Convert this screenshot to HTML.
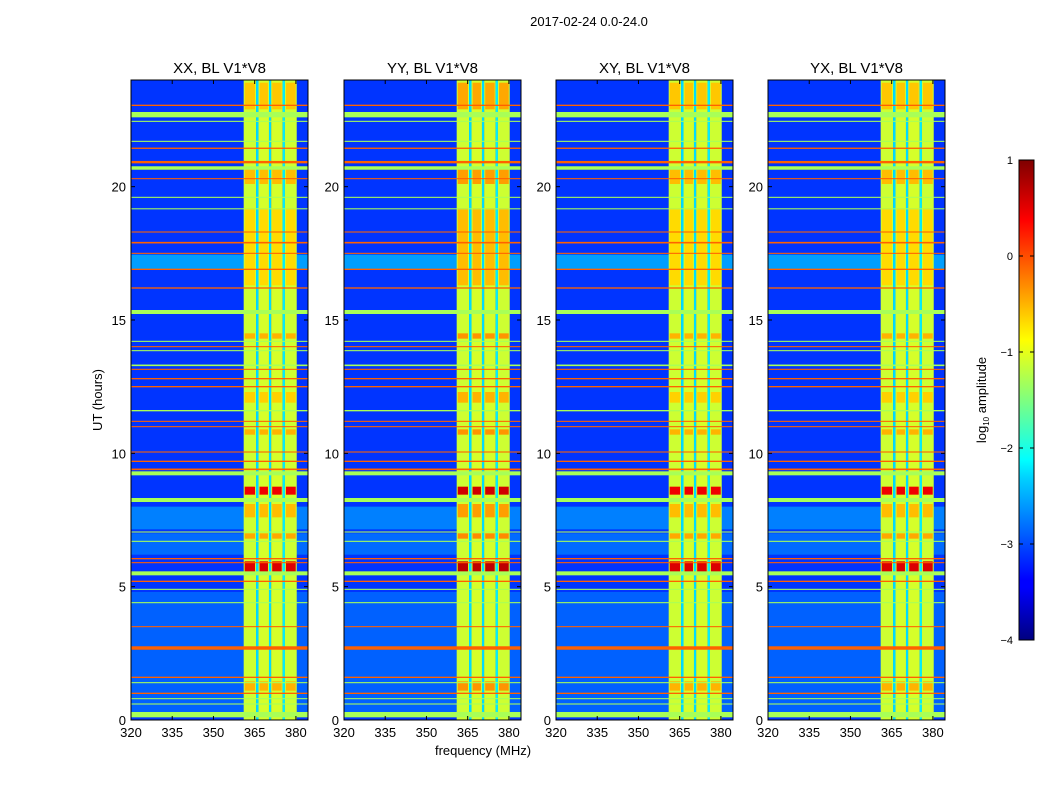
<!DOCTYPE html>
<html><head><meta charset="utf-8">
<style>
body{margin:0;background:#fff;}
svg text{font-family:"Liberation Sans",sans-serif;fill:#000;}
</style></head>
<body>
<svg id="chart" width="1050" height="800" xmlns="http://www.w3.org/2000/svg">
<defs>
<linearGradient id="jetgrad" x1="0" y1="1" x2="0" y2="0">
<stop offset="0" stop-color="#00007f"/>
<stop offset="0.11" stop-color="#0000ff"/>
<stop offset="0.125" stop-color="#0000ff"/>
<stop offset="0.34" stop-color="#00d4ff"/>
<stop offset="0.375" stop-color="#00ffff"/>
<stop offset="0.5" stop-color="#7fff7f"/>
<stop offset="0.625" stop-color="#ffff00"/>
<stop offset="0.66" stop-color="#ffdd00"/>
<stop offset="0.875" stop-color="#ff0000"/>
<stop offset="1" stop-color="#7f0000"/>
</linearGradient>
</defs>
<text x="589" y="26" font-size="13" text-anchor="middle">2017-02-24 0.0-24.0</text>
<text transform="translate(102,400) rotate(-90)" font-size="13" text-anchor="middle">UT (hours)</text>
<text x="483" y="755" font-size="13" text-anchor="middle">frequency (MHz)</text>
<g id="panels"></g>
<g id="cbar">
<rect x="1019" y="160" width="15" height="480" fill="url(#jetgrad)" stroke="#000" stroke-width="1"/>
</g>
<text transform="translate(986,400) rotate(-90)" font-size="13" text-anchor="middle">log<tspan font-size="8" dy="3">10</tspan><tspan dy="-3"> amplitude</tspan></text>
</svg>
<script>
const panelTitles = ["XX, BL V1*V8","YY, BL V1*V8","XY, BL V1*V8","YX, BL V1*V8"];
const panelLefts = [131,344,556,768];
const xTicks = [320,335,350,365,380];
const yTicks = [0,5,10,15,20];
const cbarTicks = [1,0,-1,-2,-3,-4];
const bgLevel = -3.12;
// band columns: [freqStart, freqEnd, level]
const bandCols = [[361,365.5,-1.12],[365.5,366.4,-2.3],[366.4,370.2,-1.08],[370.2,371.0,-2.3],[371.0,375.2,-1.08],[375.2,376.0,-2.2],[376.0,380.3,-1.12]];
// hot segments in band: [hourStart, hourEnd, level]
const bandHot = [[5.55,5.95,0.55],[8.45,8.75,0.45],[6.8,7.0,-0.45],[7.6,8.1,-0.55],[16.3,19.2,-0.7],[20.1,20.7,-0.55],[22.9,23.9,-0.6],[1.1,1.45,-0.5],[14.3,14.5,-0.5],[10.7,10.9,-0.5],[11.9,12.3,-0.65]];
// lighter background regions: [hourStart, hourEnd, level]
const bgRegions = [[7.15,8.0,-2.75],[6.2,7.0,-2.85],[16.9,17.45,-2.6],[0.3,4.8,-2.9]];
// row lines: [hour, thicknessHours, level]
const rowLines = [[23.05,0.05,-0.1],[22.7,0.2,-1.3],[22.45,0.04,-1.3],[21.7,0.04,-1.3],[21.44,0.05,-0.1],[20.92,0.09,-0.1],[20.7,0.13,-1.3],[20.3,0.04,-0.1],[19.6,0.04,-1.3],[19.17,0.04,-1.3],[18.3,0.04,-0.1],[17.9,0.06,-0.1],[17.5,0.04,-0.1],[16.9,0.05,-0.1],[16.2,0.05,-0.1],[15.3,0.15,-1.3],[14.2,0.04,-1.3],[14.0,0.04,-0.1],[13.85,0.04,-1.3],[13.3,0.06,-1.3],[13.15,0.04,-0.1],[12.8,0.05,-0.1],[12.5,0.05,-0.1],[11.6,0.05,-1.3],[11.2,0.04,-0.1],[11.0,0.04,-0.1],[10.05,0.04,-0.1],[9.7,0.05,-0.1],[9.4,0.06,-0.1],[9.25,0.15,-1.3],[8.25,0.15,-1.3],[7.05,0.04,-1.3],[6.7,0.04,-1.3],[6.05,0.05,-0.1],[5.9,0.04,-0.1],[5.5,0.15,-1.3],[5.2,0.05,-0.1],[4.9,0.04,-1.3],[4.4,0.04,-1.3],[3.5,0.04,-0.1],[2.7,0.13,-0.1],[1.6,0.05,-0.1],[1.4,0.04,-1.3],[1.0,0.05,-0.1],[0.8,0.04,-1.3],[0.6,0.04,-1.3],[0.2,0.2,-1.3]];

const PW = 177, PT = 80, PB = 720;
const fMin = 320, fMax = 384.4, hMin = 0, hMax = 24, vMin = -4, vMax = 1;
function xScale(left, f){ return left + (f - fMin) / (fMax - fMin) * PW; }
function yScale(h){ return PB - (h - hMin) / (hMax - hMin) * (PB - PT); }
function cbarY(v){ return 640 - (v - vMin) / (vMax - vMin) * 480; }
function clip(a){ return Math.max(0, Math.min(1, a)); }
function jet(v){
  const t = (v - vMin) / (vMax - vMin);
  const r = clip(1.5 - Math.abs(4*t - 3)), g = clip(1.5 - Math.abs(4*t - 2)), b = clip(1.5 - Math.abs(4*t - 1));
  return `rgb(${Math.round(r*255)},${Math.round(g*255)},${Math.round(b*255)})`;
}
const NS = "http://www.w3.org/2000/svg";
function mk(tag, attrs, parent){
  const e = document.createElementNS(NS, tag);
  for (const k in attrs) e.setAttribute(k, attrs[k]);
  parent.appendChild(e); return e;
}
const panelsG = document.getElementById('panels');
panelLefts.forEach((left, pi) => {
  const g = mk('g', {}, panelsG);
  
  
  const bg = mk('rect', {x:left, y:PT, width:PW, height:PB-PT, fill:jet(bgLevel)}, g);
  
  
  bgRegions.forEach(r => {
    const e = mk('rect', {x:left, y:yScale(r[1]), width:PW, height:yScale(r[0])-yScale(r[1]), fill:jet(r[2])}, g);
    
    
  });
  bandCols.forEach(c => {
    const x0 = xScale(left, c[0]), x1 = xScale(left, c[1]);
    const e = mk('rect', {x:x0, y:PT, width:x1-x0, height:PB-PT, fill:jet(c[2])}, g);
    
    
    if (c[2] > -2) {
      bandHot.forEach(h => {
        const lv = pi === 1 ? h[2] + 0.15 : h[2];
        const hr = mk('rect', {x:x0+1, y:yScale(h[1]), width:Math.max(0,x1-x0-2), height:yScale(h[0])-yScale(h[1]), fill:jet(lv)}, g);
        
        
      });
    }
  });
  rowLines.forEach(r => {
    const y0 = yScale(r[0] + r[1]/2), y1 = yScale(r[0] - r[1]/2);
    const e = mk('rect', {x:left, y:y0, width:PW, height:Math.max(1, y1-y0), fill:jet(r[2])}, g);
    
    
  });
  const fr = mk('rect', {x:left, y:PT, width:PW, height:PB-PT, fill:'none', stroke:'#000', 'stroke-width':1}, g);
  
  
  const tt = mk('text', {x:left+PW/2, y:73, 'font-size':15, 'text-anchor':'middle'}, g);
  tt.textContent = panelTitles[pi];
  
  
  xTicks.forEach(f => {
    const x = xScale(left, f);
    mk('line', {x1:x, x2:x, y1:PB, y2:PB-4, stroke:'#000'}, g);
    mk('line', {x1:x, x2:x, y1:PT, y2:PT+4, stroke:'#000'}, g);
    const t = mk('text', {x:x, y:737, 'font-size':13, 'text-anchor':'middle'}, g);
    t.textContent = f;
    
    
  });
  yTicks.forEach(h => {
    const y = yScale(h);
    mk('line', {x1:left, x2:left+4, y1:y, y2:y, stroke:'#000'}, g);
    mk('line', {x1:left+PW, x2:left+PW-4, y1:y, y2:y, stroke:'#000'}, g);
    const t = mk('text', {x:left-5, y:y+5, 'font-size':13, 'text-anchor':'end'}, g);
    t.textContent = h;
    
    
  });
});
const cb = document.getElementById('cbar');
cbarTicks.forEach(v => {
  const y = cbarY(v);
  mk('line', {x1:1019, x2:1023, y1:y, y2:y, stroke:'#000'}, cb);
  mk('line', {x1:1030, x2:1034, y1:y, y2:y, stroke:'#000'}, cb);
  const t = mk('text', {x:1013, y:y+4, 'font-size':11, 'text-anchor':'end'}, cb);
  t.textContent = v < 0 ? '\u2212' + (-v) : String(v);
  
  
});
</script>
</body></html>
